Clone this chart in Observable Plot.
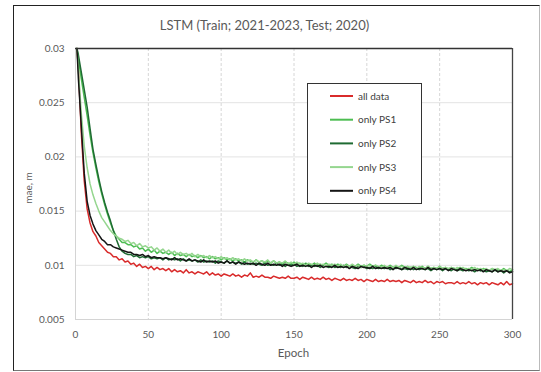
<!DOCTYPE html>
<html><head><meta charset="utf-8">
<script src="https://cdn.jsdelivr.net/npm/d3@7"></script>
<script src="https://cdn.jsdelivr.net/npm/@observablehq/plot@0.6"></script>
<style>
body{margin:0;background:#fff;}
#wrap{position:relative;width:541px;height:372px;overflow:hidden;font-family:Lato,sans-serif;background:#fff}
#frame{position:absolute;left:13px;top:5px;width:527px;height:366px;border:1px solid #222;border-bottom-color:#777;border-right-color:#bbb;box-sizing:border-box}
#title{position:absolute;left:0;width:529px;top:17px;text-align:center;font-size:13px;color:#595959;line-height:16px}
#chart{position:absolute;left:0;top:40px}
#xlab{position:absolute;left:0;width:587px;top:346px;text-align:center;font-size:11.5px;color:#595959;line-height:14px}
#ylab{position:absolute;left:28px;top:188px;transform:translate(-50%,-50%) rotate(-90deg);font-size:10px;color:#595959;white-space:nowrap}
#legend{position:absolute;left:307px;top:83px}
</style></head>
<body>
<div id="wrap">
<div id="frame"></div>
<div id="title">LSTM (Train; 2021-2023, Test; 2020)</div>
<div id="chart"></div>
<div id="xlab">Epoch</div>
<div id="ylab">mae, m</div>
<svg id="legend" width="115" height="121"></svg>
</div>
<script>
const seriesNames = ["all data", "only PS1", "only PS2", "only PS3", "only PS4"];
const seriesColors = ["#d92b2b", "#4dbd52", "#1f6b33", "#95d68f", "#151515"];
const xTicks = [0, 50, 100, 150, 200, 250, 300];
const yTicks = [0.005, 0.01, 0.015, 0.02, 0.025, 0.03];
const yTickLabels = ["0.005", "0.01", "0.015", "0.02", "0.025", "0.03"];

const epochs = [1,2,4,6,8,10,12,14,16,18,20,22,24,26,28,30,32,34,36,38,40,
42,44,46,48,50,52,54,56,58,60,62,64,66,68,70,72,74,76,78,80,
82,84,86,88,90,92,94,96,98,100,102,104,106,108,110,112,114,116,118,120,
122,124,126,128,130,132,134,136,138,140,142,144,146,148,150,152,154,156,158,160,
162,164,166,168,170,172,174,176,178,180,182,184,186,188,190,192,194,196,198,200,
202,204,206,208,210,212,214,216,218,220,222,224,226,228,230,232,234,236,238,240,
242,244,246,248,250,252,254,256,258,260,262,264,266,268,270,272,274,276,278,280,
282,284,286,288,290,292,294,296,298,300];

const allData = [.0300,.0282,.0222,.0178,.0152,.0139,.0131,.0127,.0121,.0118,.0115,.0112,.0111,.0108,.0108,.0105,.0106,.0103,.0104,.0101,.0102,
.0099,.0101,.0098,.0099,.0097,.0099,.0096,.0098,.0096,.0097,.0095,.0097,.0094,.0096,.0094,.0095,.0093,.0096,.0093,.0094,
.0092,.0094,.0093,.0092,.0094,.0091,.0093,.0091,.0092,.0090,.0092,.0091,.0090,.0092,.0090,.0091,.0089,.0091,.0090,.0093,
.0089,.0090,.0089,.0091,.0089,.0089,.0088,.0090,.0089,.0088,.0089,.0088,.0090,.0088,.0088,.0089,.0087,.0089,.0088,.0087,
.0089,.0087,.0088,.0087,.0089,.0087,.0088,.0086,.0088,.0087,.0086,.0088,.0086,.0087,.0086,.0088,.0086,.0087,.0085,.0087,
.0086,.0085,.0087,.0085,.0086,.0085,.0087,.0085,.0086,.0085,.0086,.0084,.0086,.0085,.0084,.0086,.0084,.0085,.0084,.0086,
.0084,.0085,.0083,.0085,.0084,.0085,.0083,.0084,.0084,.0083,.0085,.0083,.0084,.0083,.0085,.0083,.0084,.0082,.0084,.0083,
.0084,.0082,.0084,.0083,.0082,.0084,.0082,.0085,.0082,.0083];

const onlyPS1 = [.0300,.0290,.0272,.0255,.0238,.0220,.0204,.0190,.0177,.0166,.0156,.0147,.0139,.0132,.0127,.0124,.0121,.0121,.0119,.0119,.0117,
.0118,.0115,.0116,.0113,.0115,.0112,.0114,.0111,.0113,.0111,.0112,.0110,.0112,.0109,.0111,.0109,.0110,.0108,.0110,.0108,
.0109,.0107,.0109,.0107,.0108,.0106,.0108,.0106,.0107,.0105,.0107,.0105,.0106,.0104,.0106,.0104,.0105,.0103,.0105,.0104,
.0103,.0105,.0103,.0104,.0102,.0104,.0102,.0104,.0102,.0103,.0101,.0103,.0102,.0101,.0103,.0101,.0102,.0100,.0102,.0101,
.0100,.0102,.0100,.0101,.0100,.0102,.0100,.0101,.0099,.0101,.0100,.0099,.0101,.0099,.0100,.0099,.0101,.0099,.0100,.0099,
.0101,.0099,.0100,.0098,.0100,.0099,.0098,.0100,.0098,.0099,.0098,.0100,.0098,.0099,.0097,.0099,.0098,.0097,.0099,.0097,
.0099,.0097,.0098,.0097,.0099,.0097,.0098,.0096,.0098,.0097,.0096,.0098,.0096,.0097,.0096,.0098,.0096,.0097,.0095,.0097,
.0096,.0095,.0097,.0095,.0096,.0095,.0097,.0095,.0094,.0096];

const onlyPS2 = [.0300,.0294,.0278,.0262,.0246,.0226,.0207,.0193,.0180,.0168,.0158,.0149,.0141,.0132,.0124,.0117,.0113,.0111,.0110,.0110,.0108,
.0109,.0107,.0108,.0107,.0108,.0106,.0107,.0106,.0107,.0105,.0107,.0105,.0106,.0105,.0106,.0104,.0106,.0104,.0105,.0104,
.0105,.0103,.0105,.0103,.0104,.0103,.0104,.0102,.0104,.0103,.0102,.0104,.0102,.0103,.0102,.0103,.0101,.0103,.0101,.0102,
.0101,.0102,.0101,.0100,.0102,.0100,.0101,.0100,.0102,.0100,.0101,.0099,.0101,.0100,.0101,.0099,.0100,.0099,.0101,.0099,
.0100,.0099,.0100,.0098,.0100,.0099,.0098,.0100,.0098,.0099,.0098,.0100,.0098,.0099,.0098,.0097,.0099,.0098,.0099,.0097,
.0098,.0097,.0099,.0097,.0098,.0097,.0098,.0096,.0098,.0097,.0098,.0096,.0097,.0096,.0098,.0096,.0097,.0096,.0097,.0096,
.0097,.0095,.0097,.0096,.0097,.0095,.0097,.0096,.0095,.0097,.0095,.0096,.0095,.0096,.0095,.0096,.0094,.0096,.0095,.0096,
.0094,.0095,.0094,.0096,.0094,.0095,.0093,.0095,.0094,.0094];

const onlyPS3 = [.0300,.0280,.0240,.0210,.0190,.0175,.0165,.0157,.0150,.0144,.0140,.0136,.0132,.0129,.0127,.0125,.0124,.0122,.0123,.0120,.0121,
.0118,.0120,.0117,.0118,.0116,.0117,.0114,.0116,.0113,.0115,.0112,.0114,.0111,.0113,.0110,.0112,.0110,.0111,.0109,.0111,
.0108,.0110,.0108,.0109,.0107,.0109,.0107,.0108,.0106,.0108,.0106,.0107,.0105,.0107,.0105,.0106,.0104,.0106,.0104,.0105,
.0103,.0105,.0103,.0104,.0103,.0105,.0102,.0104,.0102,.0103,.0102,.0104,.0101,.0103,.0101,.0103,.0101,.0102,.0100,.0102,
.0101,.0100,.0102,.0100,.0101,.0099,.0101,.0100,.0101,.0099,.0101,.0099,.0100,.0099,.0101,.0099,.0100,.0098,.0100,.0099,
.0100,.0098,.0100,.0099,.0098,.0100,.0098,.0099,.0098,.0100,.0098,.0099,.0097,.0099,.0098,.0099,.0097,.0099,.0098,.0097,
.0099,.0097,.0098,.0097,.0099,.0097,.0098,.0097,.0098,.0096,.0098,.0097,.0098,.0096,.0097,.0096,.0098,.0096,.0097,.0096,
.0097,.0095,.0097,.0096,.0097,.0095,.0096,.0095,.0097,.0096];

const onlyPS4 = [.0300,.0272,.0228,.0185,.0159,.0146,.0138,.0132,.0128,.0124,.0122,.0119,.0119,.0117,.0116,.0115,.0114,.0113,.0112,.0112,.0110,
.0110,.0109,.0110,.0108,.0109,.0107,.0108,.0107,.0107,.0106,.0107,.0106,.0105,.0107,.0105,.0106,.0105,.0104,.0106,.0104,
.0105,.0104,.0103,.0105,.0103,.0104,.0103,.0104,.0102,.0103,.0102,.0104,.0102,.0103,.0101,.0103,.0102,.0101,.0102,.0101,
.0102,.0100,.0102,.0101,.0100,.0102,.0100,.0101,.0100,.0101,.0099,.0101,.0100,.0099,.0100,.0101,.0099,.0100,.0099,.0100,
.0098,.0100,.0099,.0100,.0098,.0099,.0099,.0098,.0100,.0098,.0099,.0098,.0099,.0097,.0099,.0098,.0097,.0099,.0098,.0098,
.0097,.0099,.0097,.0098,.0097,.0098,.0097,.0098,.0096,.0098,.0097,.0096,.0098,.0097,.0096,.0098,.0096,.0097,.0097,.0096,
.0098,.0096,.0097,.0096,.0097,.0096,.0097,.0095,.0097,.0096,.0095,.0097,.0096,.0095,.0096,.0095,.0096,.0095,.0096,.0094,
.0096,.0095,.0094,.0096,.0094,.0095,.0094,.0095,.0093,.0094];

const seriesValues = [allData, onlyPS1, onlyPS2, onlyPS3, onlyPS4];
seriesValues.forEach((arr, i) => {
  if (arr.length !== epochs.length) throw new Error(seriesNames[i] + " length " + arr.length + " vs " + epochs.length);
});

const rows = [];
seriesValues.forEach((arr, i) => arr.forEach((v, j) => rows.push({series: seriesNames[i], epoch: epochs[j], mae: v})));

const gridX = xTicks.slice(1, -1);
const gridY = yTicks.slice(1, -1);

const chart = Plot.plot({
  width: 541,
  height: 332,
  marginLeft: 75,
  marginRight: 29,
  marginTop: 8,
  marginBottom: 53,
  style: {fontFamily: "Lato, sans-serif", fontSize: "10px", color: "#595959", background: "transparent"},
  x: {domain: [0, 300], ticks: xTicks, tickSize: 0, tickPadding: 11, label: null},
  y: {domain: [0.005, 0.03], ticks: yTicks, tickSize: 0, tickPadding: 11, label: null,
      tickFormat: d => yTickLabels[yTicks.findIndex(t => Math.abs(t - d) < 1e-9)]},
  color: {domain: seriesNames, range: seriesColors},
  marks: [
    Plot.ruleY(gridY, {stroke: "#e3e3e3", strokeWidth: 1}),
    Plot.ruleX(gridX, {stroke: "#d6d6d6", strokeWidth: 1, strokeDasharray: "3,2"}),
    Plot.ruleX([0], {stroke: "#d4d4d4"}),
    Plot.ruleY([0.005], {stroke: "#d4d4d4"}),
    Plot.line(rows, {x: "epoch", y: "mae", z: "series", stroke: "series", strokeWidth: 1.5, strokeLinejoin: "round"}),
    Plot.ruleY([0.03], {stroke: "#333", strokeWidth: 1.3}),
    Plot.ruleX([300], {stroke: "#444", strokeWidth: 1.3})
  ]
});
document.getElementById("chart").appendChild(chart);

// legend
const lg = d3.select("#legend");
lg.append("rect").attr("x", 0.5).attr("y", 0.5).attr("width", 114).attr("height", 120)
  .attr("fill", "#fff").attr("stroke", "#333").attr("stroke-width", 1);
seriesNames.forEach((name, i) => {
  const yy = 13 + i * 23.7;
  lg.append("line").attr("x1", 23).attr("x2", 46).attr("y1", yy).attr("y2", yy)
    .attr("stroke", seriesColors[i]).attr("stroke-width", 2);
  lg.append("text").attr("x", 51).attr("y", yy).attr("dy", "0.35em")
    .attr("font-family", "Lato, sans-serif").attr("font-size", 10).attr("fill", "#404040").text(name);
});
</script>
</body></html>
